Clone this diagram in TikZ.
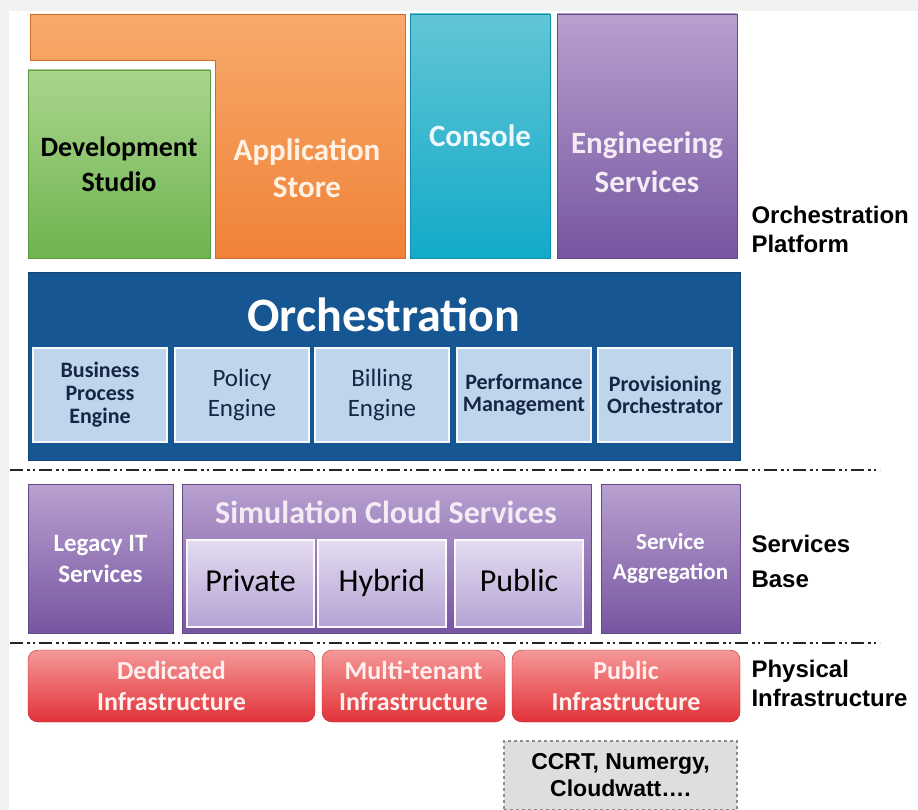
\documentclass[tikz,border=0pt]{standalone}
\usepackage{fontspec}
\setmainfont{Carlito}
\newfontfamily\arialfont{Liberation Sans}
\usepackage{xcolor}
\definecolor{FrameGray}{RGB}{241,242,242}
\definecolor{DevTop}{RGB}{170,213,142}
\definecolor{DevBot}{RGB}{110,180,78}
\definecolor{StoreTop}{RGB}{247,170,108}
\definecolor{StoreBot}{RGB}{240,130,55}
\definecolor{ConsTop}{RGB}{98,198,212}
\definecolor{ConsBot}{RGB}{18,170,202}
\definecolor{PurpTop}{RGB}{184,160,208}
\definecolor{PurpBot}{RGB}{118,86,160}
\definecolor{OrchBlue}{RGB}{22,86,146}
\definecolor{EngBlue}{RGB}{190,213,236}
\definecolor{EngText}{RGB}{22,38,68}
\definecolor{LavTop}{RGB}{228,219,240}
\definecolor{LavBot}{RGB}{180,163,212}
\definecolor{InfTop}{RGB}{245,152,152}
\definecolor{InfBot}{RGB}{226,50,56}
\definecolor{NoteGray}{RGB}{222,222,222}
\usetikzlibrary{positioning,calc}

\begin{document}
\begin{tikzpicture}[x=1pt, y=-1pt,
    blk/.style={rectangle, anchor=north west, inner sep=1pt, outer sep=0pt, align=center,
                font=\bfseries\fontsize{31}{38}\selectfont},
    purp/.style={blk, top color=PurpTop, bottom color=PurpBot, draw=PurpBot!85!black, text=white},
    eng/.style={blk, fill=EngBlue, draw=white!85!EngBlue, line width=1.5pt, text=EngText,
                minimum width=134, minimum height=94},
    lav/.style={blk, top color=LavTop, bottom color=LavBot, draw=white!80!LavTop, line width=1.5pt,
                text=black, minimum width=127, minimum height=87, text height=23pt, text depth=7pt,
                font=\fontsize{32}{36}\selectfont},
    infra/.style={blk, top color=InfTop, bottom color=InfBot, draw=InfBot!80!black, rounded corners=10pt,
                  text=white!94!red, minimum height=72, font=\bfseries\fontsize{26}{31}\selectfont},
    side/.style={anchor=west, align=left, font=\arialfont\bfseries\fontsize{24}{29}\selectfont},
    sep/.style={line width=2.8pt, black!85, dash pattern=on 13pt off 4pt on 2.5pt off 3pt on 2.5pt off 4pt}
]
    % frame
    \fill[FrameGray] (0,0) rectangle (918,810);
    \fill[white] (9,11) rectangle (918,810);
    \useasboundingbox (0,0) rectangle (918,810);

    % orchestration platform
    \shade[top color=StoreTop, bottom color=StoreBot, draw=StoreBot!85!black]
        (30,14) -- (405,14) -- (405,258) -- (215,258) -- (215,60) -- (30,60) -- cycle;
    \node[font=\bfseries\fontsize{31}{37}\selectfont, text=white!90!orange, align=center] (store) at (307,168) {Application\\Store};
    \node[blk, top color=DevTop, bottom color=DevBot, draw=DevBot!85!black, text=black,
          minimum width=182, minimum height=188, font=\bfseries\fontsize{28}{35}\selectfont] (dev) at (28,70) {Development\\Studio};
    \node[blk, top color=ConsTop, bottom color=ConsBot, draw=ConsBot!85!black, text=white!92!cyan,
          minimum width=140, minimum height=244] (cons) at (410,14) {Console};
    \node[purp, minimum width=180, minimum height=244] (engsrv) at (557,14) {};
    \node[text=white!92!violet, align=center, font=\bfseries\fontsize{31}{39}\selectfont] (engT) at (647,162) {Engineering\\Services};
    \node[side] (platform) at (748,229) {Orchestration\\Platform};

    \node[blk, fill=OrchBlue, draw=OrchBlue!80!black, minimum width=712, minimum height=188] (orch) at (28,272) {};
    \node[text=white, font=\bfseries\fontsize{48}{52}\selectfont] (orchT) at (384,315) {Orchestration};
    \node[eng, font=\bfseries\fontsize{22}{23}\selectfont] (bpe) at (33,348) {Business\\Process\\Engine};
    \node[eng, font=\fontsize{25}{30}\selectfont] (pol) at (175,348) {Policy\\Engine};
    \node[eng, font=\fontsize{25}{30}\selectfont] (bill) at (315,348) {Billing\\Engine};
    \node[eng, font=\bfseries\fontsize{22}{22}\selectfont] (perf) at (457,348) {Performance\\Management};
    \node[eng, font=\bfseries\fontsize{22}{22}\selectfont] (prov) at (598,348) {Provisioning\\Orchestrator};

    \draw[sep] (10,470) -- (880,470);

    % services base
    \node[purp, minimum width=145, minimum height=149, font=\bfseries\fontsize{25}{31}\selectfont] (legacy) at (28,484) {Legacy IT\\Services};
    \node[purp, minimum width=409, minimum height=149] (sim) at (182,484) {};
    \node[text=white!92!violet, font=\bfseries\fontsize{32}{34}\selectfont] (simT) at (386,512) {Simulation Cloud Services};
    \node[lav] (priv) at (187,540) {Private};
    \node[lav, minimum width=128] (hyb) at (318,540) {Hybrid};
    \node[lav, minimum width=128] (pub) at (455,540) {Public};
    \node[purp, minimum width=139, minimum height=149, font=\bfseries\fontsize{23}{30}\selectfont] (aggr) at (601,484) {Service\\Aggregation};
    \node[side, font=\arialfont\bfseries\fontsize{24}{35}\selectfont] (base) at (748,561) {Services\\Base};

    \draw[sep] (10,643) -- (880,643);

    % physical infrastructure
    \node[infra, minimum width=287] (ded) at (28,650) {Dedicated\\Infrastructure};
    \node[infra, minimum width=183] (multi) at (322,650) {Multi-tenant\\Infrastructure};
    \node[infra, minimum width=228] (pubinf) at (512,650) {Public\\Infrastructure};
    \node[side] (phys) at (748,683) {Physical\\Infrastructure};

    \node[blk, fill=NoteGray, draw=black!45, dashed, line width=1.2pt, text=black,
          minimum width=233, minimum height=69, font=\arialfont\bfseries\fontsize{23}{27}\selectfont] (ccrt) at (504,741) {CCRT, Numergy,\\Cloudwatt\dots.};
\end{tikzpicture}
\end{document}
